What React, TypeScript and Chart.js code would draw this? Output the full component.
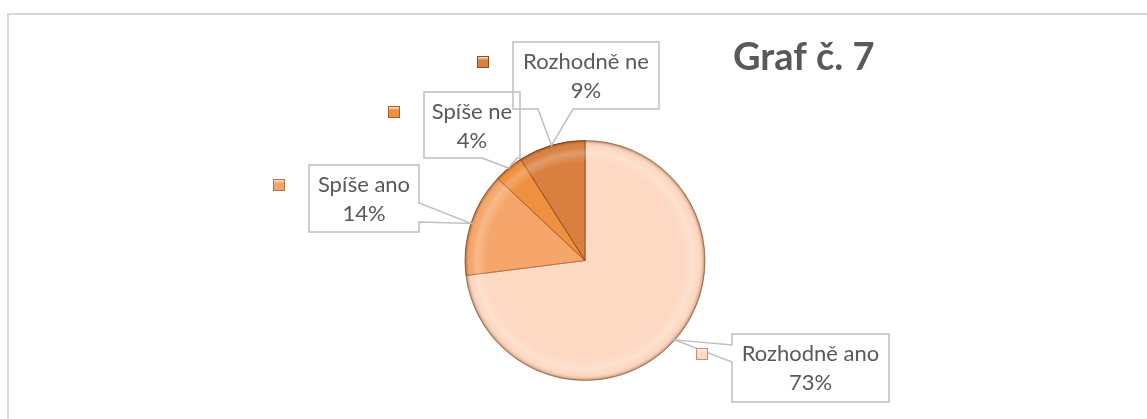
import { useEffect, useRef } from "react";
import { Chart, registerables } from "chart.js";
Chart.register(...registerables);

const categories = ["Rozhodně ano", "Spíše ano", "Spíše ne", "Rozhodně ne"];
const values = [73, 14, 4, 9];
const percentLabels = ["73%", "14%", "4%", "9%"];
const titleText = "Graf č. 7";

const sliceColors = ["#fdd8c2", "#f6a66b", "#ee903f", "#d98040"];
const sliceEdges = ["#c8906f", "#b8713e", "#aa5e24", "#8e4e1e"];

// callout boxes: [left, top, width, height], wedge side, wedge base range
const labelLayout = [
  { box: [732, 334, 157, 68], side: "left", base: [345, 362] },
  { box: [309, 165, 110, 67], side: "right", base: [203, 222] },
  { box: [424, 92, 96, 66], side: "bottom", base: [482, 517] },
  { box: [513, 42, 146, 67], side: "bottom", base: [538, 573] },
];

const TEXT_COLOR = "#595959";
const LABEL_FONT = "22px Lato";
const TITLE_FONT = "bold 38px Lato";

function calloutPath(ctx: CanvasRenderingContext2D, box: number[], side: string, base: number[], tx: number, ty: number) {
  const [x, y, w, h] = box;
  const [b0, b1] = base;
  ctx.beginPath();
  ctx.moveTo(x, y);
  ctx.lineTo(x + w, y);
  if (side === "right") {
    ctx.lineTo(x + w, b0);
    ctx.lineTo(tx, ty);
    ctx.lineTo(x + w, b1);
  }
  ctx.lineTo(x + w, y + h);
  if (side === "bottom") {
    ctx.lineTo(b1, y + h);
    ctx.lineTo(tx, ty);
    ctx.lineTo(b0, y + h);
  }
  ctx.lineTo(x, y + h);
  if (side === "left") {
    ctx.lineTo(x, b1);
    ctx.lineTo(tx, ty);
    ctx.lineTo(x, b0);
  }
  ctx.closePath();
}

const decorPlugin = {
  id: "decor",
  beforeDraw(chart: any) {
    const ctx = chart.ctx as CanvasRenderingContext2D;
    ctx.save();
    ctx.fillStyle = "#ffffff";
    ctx.fillRect(0, 0, chart.width, chart.height);
    ctx.strokeStyle = "#d9d9d9";
    ctx.lineWidth = 2;
    ctx.strokeRect(8, 14, chart.width + 50, chart.height + 50);
    ctx.restore();
  },
  afterDatasetsDraw(chart: any) {
    const ctx = chart.ctx as CanvasRenderingContext2D;
    const meta = chart.getDatasetMeta(0);
    const first = meta.data[0];
    if (!first) return;
    const cx = first.x, cy = first.y, r = first.outerRadius;
    // bevel shading ring
    ctx.save();
    ctx.beginPath();
    ctx.arc(cx, cy, r, 0, Math.PI * 2);
    ctx.clip();
    const g = ctx.createRadialGradient(cx, cy, 0, cx, cy, r);
    g.addColorStop(0, "rgba(255,255,255,0)");
    g.addColorStop(0.82, "rgba(255,255,255,0)");
    g.addColorStop(0.9, "rgba(255,255,255,0.22)");
    g.addColorStop(0.95, "rgba(255,255,255,0)");
    g.addColorStop(0.985, "rgba(90,45,15,0.18)");
    g.addColorStop(1, "rgba(90,45,15,0.55)");
    ctx.fillStyle = g;
    ctx.fillRect(cx - r, cy - r, 2 * r, 2 * r);
    ctx.restore();

    // labels with callouts
    ctx.save();
    meta.data.forEach((arc: any, i: number) => {
      const lay = labelLayout[i];
      const mid = (arc.startAngle + arc.endAngle) / 2;
      const tx = arc.x + Math.cos(mid) * arc.outerRadius;
      const ty = arc.y + Math.sin(mid) * arc.outerRadius;
      calloutPath(ctx, lay.box, lay.side, lay.base, tx, ty);
      ctx.strokeStyle = "#bfbfbf";
      ctx.lineWidth = 1.5;
      ctx.stroke();
      const [bx, by, bw] = lay.box;
      ctx.fillStyle = TEXT_COLOR;
      ctx.font = LABEL_FONT;
      ctx.textAlign = "center";
      ctx.textBaseline = "middle";
      ctx.fillText(categories[i], bx + bw / 2, by + 20);
      ctx.fillText(percentLabels[i], bx + bw / 2, by + 49);
      // legend key square
      const s = 12;
      const kx = bx - 30 - s / 2;
      const ky = by + 20 - s / 2;
      const kg = ctx.createLinearGradient(kx, ky, kx, ky + s);
      kg.addColorStop(0, "#ffffff");
      kg.addColorStop(0.35, sliceColors[i]);
      kg.addColorStop(1, sliceColors[i]);
      ctx.fillStyle = kg;
      ctx.fillRect(kx, ky, s, s);
      ctx.strokeStyle = sliceEdges[i];
      ctx.lineWidth = 1;
      ctx.strokeRect(kx + 0.5, ky + 0.5, s - 1, s - 1);
    });
    // title
    ctx.fillStyle = TEXT_COLOR;
    ctx.font = TITLE_FONT;
    ctx.textAlign = "left";
    ctx.textBaseline = "alphabetic";
    ctx.fillText(titleText, 733, 70);
    ctx.restore();
  },
};

export default function App() {
  const ref = useRef<HTMLCanvasElement | null>(null);
  useEffect(() => {
    if (!ref.current) return;
    const chart = new Chart(ref.current, {
      type: "pie",
      data: {
        labels: categories,
        datasets: [
          {
            data: values,
            backgroundColor: sliceColors,
            borderColor: sliceEdges,
            borderWidth: 1,
          },
        ],
      },
      options: {
        responsive: false,
        animation: false,
        layout: { padding: { left: 23, right: 0, top: 140, bottom: 38 } },
        plugins: {
          legend: { display: false },
          tooltip: { enabled: false },
        },
      },
      plugins: [decorPlugin],
    });
    return () => chart.destroy();
  }, []);
  return (
    <div style={{ position: "fixed", left: 0, top: 0, width: 1147, height: 419, background: "#fff" }}>
      <canvas ref={ref} width={1147} height={419} style={{ display: "block" }} />
    </div>
  );
}
